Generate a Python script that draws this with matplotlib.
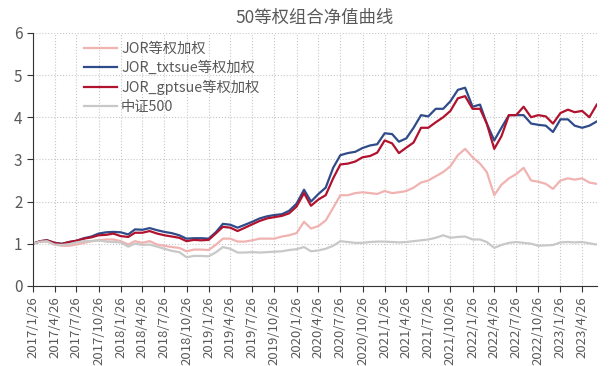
import numpy as np
import pandas as pd
import matplotlib
matplotlib.use('Agg')
import matplotlib.pyplot as plt

plt.rcParams['font.family'] = ['Noto Sans CJK SC', 'DejaVu Sans']

# monthly points, 2017/1/26 .. 2023/6/26
dates = pd.date_range('2017-01-01', periods=78, freq='MS') + pd.Timedelta(days=25)

jor = [1.00, 1.05, 1.05, 0.98, 0.95, 0.95, 0.98, 1.02, 1.06, 1.08, 1.10, 1.10,
       1.06, 0.98, 1.06, 1.02, 1.06, 0.98, 0.95, 0.92, 0.90, 0.82, 0.86, 0.86,
       0.85, 0.98, 1.12, 1.12, 1.05, 1.05, 1.08, 1.12, 1.12, 1.12, 1.17, 1.20,
       1.25, 1.52, 1.36, 1.42, 1.55, 1.85, 2.15, 2.15, 2.20, 2.22, 2.20, 2.18,
       2.25, 2.20, 2.22, 2.25, 2.33, 2.45, 2.50, 2.60, 2.70, 2.84, 3.10, 3.25,
       3.05, 2.90, 2.70, 2.15, 2.40, 2.55, 2.65, 2.80, 2.50, 2.47, 2.42, 2.30,
       2.50, 2.55, 2.52, 2.55, 2.45, 2.42]
txtsue = [1.00, 1.06, 1.08, 1.02, 1.00, 1.04, 1.07, 1.13, 1.17, 1.24, 1.27, 1.28,
          1.27, 1.22, 1.34, 1.33, 1.37, 1.32, 1.28, 1.25, 1.20, 1.12, 1.13, 1.13,
          1.12, 1.28, 1.47, 1.45, 1.38, 1.45, 1.52, 1.60, 1.65, 1.68, 1.70, 1.78,
          1.95, 2.28, 2.00, 2.18, 2.33, 2.80, 3.10, 3.15, 3.18, 3.27, 3.33, 3.36,
          3.62, 3.60, 3.42, 3.50, 3.75, 4.05, 4.02, 4.20, 4.20, 4.38, 4.65, 4.70,
          4.25, 4.30, 3.85, 3.45, 3.75, 4.05, 4.05, 4.05, 3.85, 3.82, 3.80, 3.65,
          3.95, 3.95, 3.80, 3.75, 3.80, 3.90]
gptsue = [1.00, 1.06, 1.08, 1.02, 0.99, 1.04, 1.07, 1.12, 1.15, 1.20, 1.21, 1.24,
          1.18, 1.16, 1.26, 1.26, 1.30, 1.24, 1.20, 1.17, 1.14, 1.06, 1.09, 1.08,
          1.09, 1.25, 1.40, 1.38, 1.30, 1.38, 1.46, 1.54, 1.60, 1.63, 1.66, 1.72,
          1.88, 2.20, 1.90, 2.05, 2.15, 2.55, 2.88, 2.90, 2.95, 3.05, 3.08, 3.16,
          3.45, 3.38, 3.15, 3.28, 3.40, 3.75, 3.75, 3.88, 4.00, 4.15, 4.45, 4.50,
          4.20, 4.20, 3.85, 3.25, 3.55, 4.05, 4.05, 4.25, 4.00, 4.05, 4.02, 3.85,
          4.10, 4.18, 4.12, 4.15, 4.00, 4.30]
csi500 = [1.00, 1.05, 1.06, 0.98, 0.97, 0.99, 1.03, 1.06, 1.06, 1.08, 1.05, 1.04,
          1.03, 0.93, 1.00, 0.97, 0.98, 0.93, 0.88, 0.83, 0.80, 0.68, 0.71, 0.71,
          0.70, 0.80, 0.92, 0.88, 0.79, 0.79, 0.80, 0.79, 0.80, 0.81, 0.82, 0.85,
          0.87, 0.92, 0.82, 0.84, 0.88, 0.95, 1.06, 1.04, 1.02, 1.02, 1.04, 1.05,
          1.05, 1.04, 1.03, 1.04, 1.06, 1.08, 1.10, 1.14, 1.20, 1.14, 1.16, 1.17,
          1.10, 1.10, 1.04, 0.90, 0.97, 1.02, 1.04, 1.02, 1.00, 0.95, 0.96, 0.97,
          1.03, 1.04, 1.03, 1.04, 1.01, 0.98]

labels = ['JOR等权加权', 'JOR_txtsue等权加权', 'JOR_gptsue等权加权', '中证500']
colors = ['#F0B3B1', '#2F4B89', '#B1122E', '#C8C8C8']

fig = plt.figure(figsize=(6.09, 3.66), dpi=100)
ax = fig.add_axes([0.054, 0.219, 0.926, 0.691])

for y, lab, c in zip([jor, txtsue, gptsue, csi500], labels, colors):
    ax.plot(dates, y, color=c, lw=1.6, label=lab)

ticks = pd.date_range('2017-01-01', '2023-04-01', freq='3MS') + pd.Timedelta(days=25)
ax.set_xticks(ticks)
ax.set_xticklabels([f'{d.year}/{d.month}/{d.day}' for d in ticks], rotation=90)
ax.set_xlim(pd.Timestamp('2017-01-26'), pd.Timestamp('2023-06-26'))
ax.set_ylim(0, 6)
ax.set_yticks(range(7))

ax.grid(True, ls=':', color='#C8C8C8', lw=0.8)
for s in ['top', 'right']:
    ax.spines[s].set_visible(False)
for s in ['left', 'bottom']:
    ax.spines[s].set_color('#333333')
ax.tick_params(axis='x', labelsize=9.5, colors='#595959', length=4)
ax.tick_params(axis='y', labelsize=11, colors='#595959', length=4)
ax.tick_params(axis='both', color='#333333')

ax.set_title('50等权组合净值曲线', fontsize=12.5, color='#595959', pad=7)
ax.legend(loc='upper left', bbox_to_anchor=(0.075, 1.0), frameon=False,
          fontsize=10.3, labelcolor='#595959', handlelength=2.3,
          handletextpad=0.3, labelspacing=0.35, borderaxespad=0.2)

fig.savefig('out.png', dpi=100)
